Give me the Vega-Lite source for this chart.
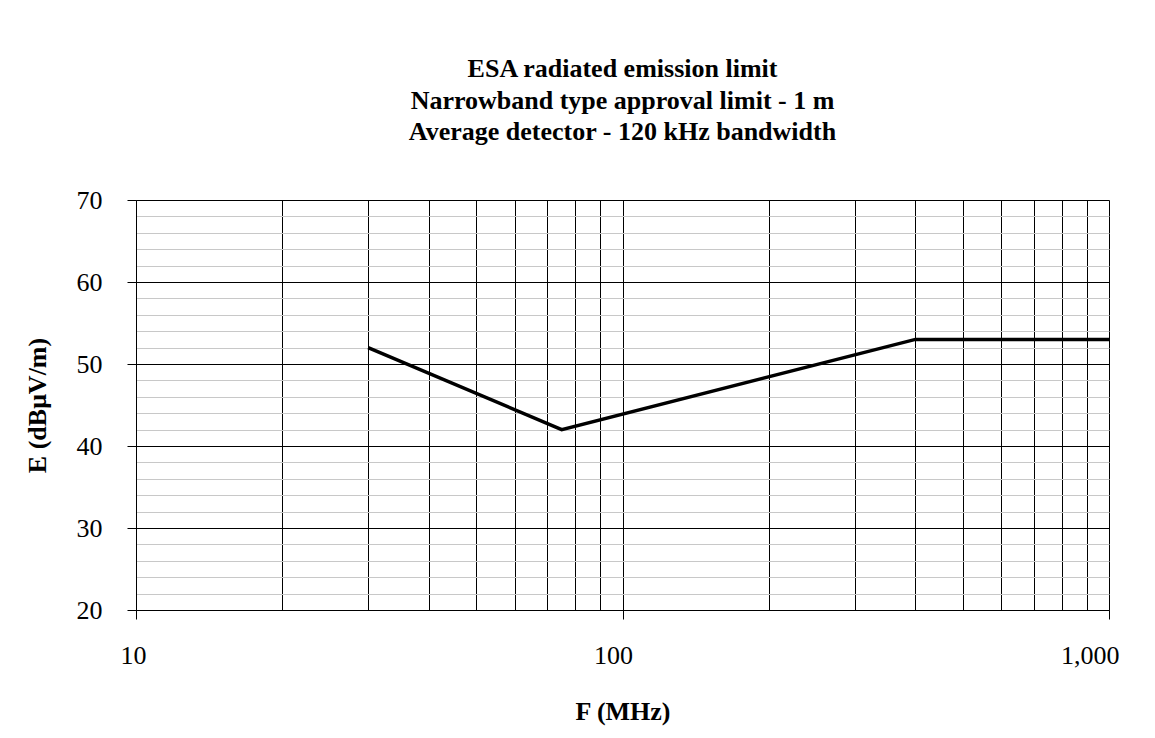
{
  "$schema": "https://vega.github.io/schema/vega-lite/v6.json",
  "width": 973,
  "height": 410,
  "autosize": {"type": "none"},
  "padding": {"left": 136, "top": 200, "right": 46, "bottom": 128},
  "background": "white",
  "config": {"view": {"stroke": null}, "font": "Liberation Serif"},
  "title": {
    "text": ["ESA radiated emission limit", "Narrowband type approval limit - 1 m", "Average detector - 120 kHz bandwidth"],
    "font": "Liberation Serif",
    "fontSize": 26,
    "fontWeight": "bold",
    "lineHeight": 31.5,
    "offset": 42,
    "color": "black",
    "anchor": "middle"
  },
  "data": {"values": [
    {"f": 30, "e": 52},
    {"f": 75, "e": 42},
    {"f": 400, "e": 53},
    {"f": 1000, "e": 53}
  ]},
  "mark": {"type": "line", "color": "black", "strokeWidth": 3.5},
  "encoding": {
    "x": {
      "field": "f",
      "type": "quantitative",
      "scale": {"type": "log", "domain": [10, 1000], "nice": false},
      "axis": {
        "title": "F (MHz)",
        "titleFont": "Liberation Serif",
        "titleFontSize": 26,
        "titleFontWeight": "bold",
        "titleColor": "black",
        "titlePadding": 30,
        "values": [10, 20, 30, 40, 50, 60, 70, 80, 90, 100, 200, 300, 400, 500, 600, 700, 800, 900, 1000],
        "labelExpr": "indexof([10,100,1000], datum.value) >= 0 ? format(datum.value, ',') : ''",
        "labelFont": "Liberation Serif",
        "labelFontSize": 26,
        "labelColor": "black",
        "labelAlign": "right",
        "labelOffset": 10,
        "labelFlush": false,
        "labelOverlap": false,
        "labelPadding": 23,
        "grid": true,
        "gridColor": "black",
        "gridWidth": 1,
        "gridOpacity": 1,
        "tickColor": "black",
        "tickSize": 9,
        "tickWidth": 1,
        "tickOpacity": {"condition": {"test": "indexof([10,100,1000], datum.value) >= 0", "value": 1}, "value": 0},
        "domainColor": "black",
        "domainWidth": 1
      }
    },
    "y": {
      "field": "e",
      "type": "quantitative",
      "scale": {"domain": [20, 70], "nice": false, "zero": false},
      "axis": {
        "title": "E (dBμV/m)",
        "titleFont": "Liberation Serif",
        "titleFontSize": 26,
        "titleFontWeight": "bold",
        "titleColor": "black",
        "titlePadding": 26,
        "values": [20, 22, 24, 26, 28, 30, 32, 34, 36, 38, 40, 42, 44, 46, 48, 50, 52, 54, 56, 58, 60, 62, 64, 66, 68, 70],
        "labelExpr": "datum.value % 10 == 0 ? datum.label : ''",
        "labelFont": "Liberation Serif",
        "labelFontSize": 26,
        "labelColor": "black",
        "labelOverlap": false,
        "labelPadding": 25,
        "grid": true,
        "gridColor": {"condition": {"test": "datum.value % 10 == 0", "value": "black"}, "value": "#c8c8c8"},
        "gridWidth": 1,
        "gridOpacity": 1,
        "tickColor": "black",
        "tickSize": 9,
        "tickWidth": 1,
        "tickOpacity": {"condition": {"test": "datum.value % 10 == 0", "value": 1}, "value": 0},
        "domainColor": "black",
        "domainWidth": 1
      }
    }
  }
}
